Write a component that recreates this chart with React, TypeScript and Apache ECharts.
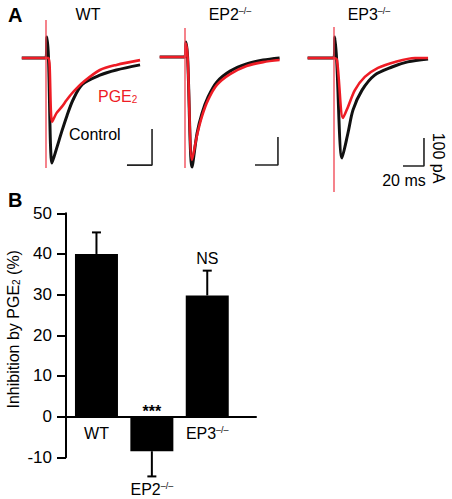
import React, { useEffect, useRef } from 'react';
import * as echarts from 'echarts';

// ---- Panel A: current traces, [time ms, current pA] ----
const wtControl = [[-22, 0], [0, 0], [0.8, 70], [2.2, 5], [5.5, -350], [10, -297], [14.5, -243], [19, -193], [24.5, -140], [33, -88], [49, -57], [64, -40], [85.5, -23]];
const wtPGE2 = [[-22, 0], [0, 0], [2.5, 0], [5.5, -213], [9.7, -183], [14.3, -163], [18.8, -140], [24.8, -113], [34, -80], [49, -40], [64, -23], [85.5, -7]];
const ep2Control = [[-23, 0], [0, 0], [0.8, 50], [2.4, -3], [6.4, -367], [11, -253], [15.5, -187], [21, -133], [29, -83], [41, -47], [56, -23], [71, -10], [86, -3]];
const ep2PGE2 = [[-23, 0], [0, 0], [0.8, 45], [2.4, -3], [6.4, -343], [11, -260], [15.5, -197], [21, -143], [29, -93], [41, -57], [56, -30], [71, -17], [86, -10]];
const ep3Control = [[-24, 0], [0, 0], [0.8, 70], [2.4, -5], [7.3, -333], [12.7, -250], [17.3, -173], [25.5, -107], [37, -57], [52.7, -30], [67, -13], [85.5, -3]];
const ep3PGE2 = [[-24, 0], [0, 0], [2.7, -7], [8.2, -200], [12.7, -163], [19, -107], [28, -63], [40, -33], [55.5, -13], [73.6, 0], [85.5, 0]];
const wtArtifact = [[0, 127], [0, -367]];
const ep2Artifact = [[0, 97], [0, -370]];
const ep3Artifact = [[0, 103], [0, -447]];
const wtScaleBar = [[73.6, -357], [96.4, -357], [96.4, -237]];
const ep2ScaleBar = [[63.6, -360], [84.5, -360], [84.5, -267]];
const ep3ScaleBar = [[62.7, -360], [81.8, -360], [81.8, -267]];
const panelTitles = ['WT', 'EP2', 'EP3'];
const panelSuffix = ['', '\u2013/\u2013', '\u2013/\u2013'];

// ---- Panel B: bar chart ----
const categories = ['WT', 'EP2', 'EP3'];
const categorySuffix = ['', '\u2013/\u2013', '\u2013/\u2013'];
const inhibition = [40, -8.5, 29.8];
const sem = [5.3, 6.2, 6.1];
const significance = ['', '***', 'NS'];

const FONT = '"Liberation Sans", Arial, Helvetica, sans-serif';
const RED = '#ee1c25';

const richLabel = (name: string, suffix: string) => (suffix ? `${name}{sup|${suffix}}` : name);
const rich = {
  sup: { fontSize: 9, verticalAlign: 'top', fontFamily: FONT, color: '#000', lineHeight: 12 },
};

export default function App() {
  const ref = useRef<HTMLDivElement>(null);
  useEffect(() => {
    const chart = echarts.init(ref.current!, null, { renderer: 'svg' });

    const panels = [
      { control: wtControl, pge: wtPGE2, artifact: wtArtifact, bar: wtScaleBar, left: 18.5, top: 13 },
      { control: ep2Control, pge: ep2PGE2, artifact: ep2Artifact, bar: ep2ScaleBar, left: 157.5, top: 12 },
      { control: ep3Control, pge: ep3PGE2, artifact: ep3Artifact, bar: ep3ScaleBar, left: 306.5, top: 13 },
    ];

    const grids: any[] = panels.map((p) => ({ left: p.left, top: p.top, width: 137.5, height: 186 }));
    grids.push({ left: 66, top: 213.3, width: 190, height: 244 });

    const xAxes: any[] = panels.map((_, i) => ({ type: 'value', gridIndex: i, min: -25, max: 100, show: false }));
    const yAxes: any[] = panels.map((_, i) => ({ type: 'value', gridIndex: i, min: -470, max: 150, show: false }));

    xAxes.push({
      type: 'value', gridIndex: 3, min: -0.55, max: 2.88,
      axisLine: { show: true, onZero: true, lineStyle: { color: '#000', width: 2 } },
      axisTick: { show: false }, axisLabel: { show: false }, splitLine: { show: false },
    });
    yAxes.push({
      type: 'value', gridIndex: 3, min: -10, max: 50, interval: 10,
      axisLine: { show: true, onZero: false, lineStyle: { color: '#000', width: 2 } },
      axisTick: { show: true, inside: false, length: 9, lineStyle: { color: '#000', width: 2 } },
      axisLabel: { fontSize: 17, color: '#000', margin: 14, fontFamily: FONT },
      splitLine: { show: false },
      name: 'Inhibition by PGE{sub|2} (%)',
      nameLocation: 'middle', nameRotate: 90, nameGap: 45,
      nameTextStyle: {
        fontSize: 16, color: '#000', fontFamily: FONT, padding: [0, 0, 0, 12],
        rich: { sub: { fontSize: 10, verticalAlign: 'bottom', fontFamily: FONT, color: '#000' } },
      },
    });

    const series: any[] = [];
    panels.forEach((p, i) => {
      series.push({ type: 'line', xAxisIndex: i, yAxisIndex: i, data: p.control, symbol: 'none', smooth: 0.3, lineStyle: { color: '#111', width: 3 }, silent: true });
      series.push({ type: 'line', xAxisIndex: i, yAxisIndex: i, data: p.pge, symbol: 'none', smooth: 0.3, lineStyle: { color: RED, width: 2.6 }, silent: true });
      series.push({ type: 'line', xAxisIndex: i, yAxisIndex: i, data: p.artifact, symbol: 'none', lineStyle: { color: '#f0404e', width: 1.3 }, silent: true });
      series.push({ type: 'line', xAxisIndex: i, yAxisIndex: i, data: p.bar, symbol: 'none', lineStyle: { color: '#222', width: 1.6 }, silent: true });
    });

    series.push({
      type: 'bar', xAxisIndex: 3, yAxisIndex: 3, barWidth: 43,
      data: categories.map((_, i) => [i, inhibition[i]]),
      itemStyle: { color: '#000' }, silent: true,
    });
    series.push({
      type: 'custom', xAxisIndex: 3, yAxisIndex: 3, silent: true,
      data: categories.map((_, i) => [i, inhibition[i], sem[i]]),
      renderItem: (params: any, api: any) => {
        const i = params.dataIndex;
        const x = api.value(0), m = api.value(1), e = api.value(2);
        const end = m >= 0 ? m + e : m - e;
        const p0 = api.coord([x, m]);
        const p1 = api.coord([x, end]);
        const zeroY = api.coord([x, 0])[1];
        const lowY = api.coord([x, Math.min(0, end)])[1];
        const cap = 4.5;
        const ls = { stroke: '#000', lineWidth: 2 };
        const children: any[] = [
          { type: 'line', shape: { x1: p0[0], y1: p0[1], x2: p1[0], y2: p1[1] }, style: ls },
          { type: 'line', shape: { x1: p1[0] - cap, y1: p1[1], x2: p1[0] + cap, y2: p1[1] }, style: ls },
          {
            type: 'text', x: p0[0], y: lowY + (end < 0 ? 13 : 17),
            style: {
              text: richLabel(categories[i], categorySuffix[i]), rich,
              fontSize: 16, fontFamily: FONT, fill: '#000',
              align: 'center', verticalAlign: 'middle', textAlign: 'center', textVerticalAlign: 'middle',
            },
          },
        ];
        const sig = significance[i];
        if (sig) {
          const sy = m < 0 ? zeroY - 5 : p1[1] - 12;
          children.push({
            type: 'text', x: p0[0], y: sy,
            style: {
              text: sig, fontSize: 16, fontFamily: FONT, fill: '#000', fontWeight: m < 0 ? 'bold' : 'normal',
              align: 'center', verticalAlign: 'middle', textAlign: 'center', textVerticalAlign: 'middle',
            },
          });
        }
        return { type: 'group', children };
      },
    });

    const titleX = [88, 230, 369];
    const txt = (text: string, x: number, y: number, extra: any = {}, elExtra: any = {}) => ({
      type: 'text', x, y, silent: true, ...elExtra,
      style: {
        text, fontSize: 16, fontFamily: FONT, fill: '#000',
        align: 'center', verticalAlign: 'middle', textAlign: 'center', textVerticalAlign: 'middle',
        rich, ...extra,
      },
    });

    const graphic: any[] = [
      txt('A', 8, 15, { fontSize: 20, fontWeight: 'bold', align: 'left', textAlign: 'left' }),
      txt('B', 8, 200, { fontSize: 20, fontWeight: 'bold', align: 'left', textAlign: 'left' }),
      ...panelTitles.map((t, i) => txt(richLabel(t, panelSuffix[i]), titleX[i], 14)),
      txt('PGE{sub|2}', 98, 96, {
        fill: RED, align: 'left', textAlign: 'left',
        rich: { sub: { fontSize: 10, verticalAlign: 'bottom', fontFamily: FONT, fill: RED, color: RED } },
      }),
      txt('Control', 69, 134, { align: 'left', textAlign: 'left' }),
      txt('20 ms', 404, 180),
      txt('100 pA', 438, 158, {}, { rotation: -Math.PI / 2 }),
    ];

    chart.setOption({
      animation: false,
      backgroundColor: '#fff',
      grid: grids,
      xAxis: xAxes,
      yAxis: yAxes,
      series,
      graphic: { elements: graphic },
    });
    return () => chart.dispose();
  }, []);
  return <div ref={ref} style={{ position: 'fixed', left: 0, top: 0, width: 452, height: 499, background: '#fff' }} />;
}
